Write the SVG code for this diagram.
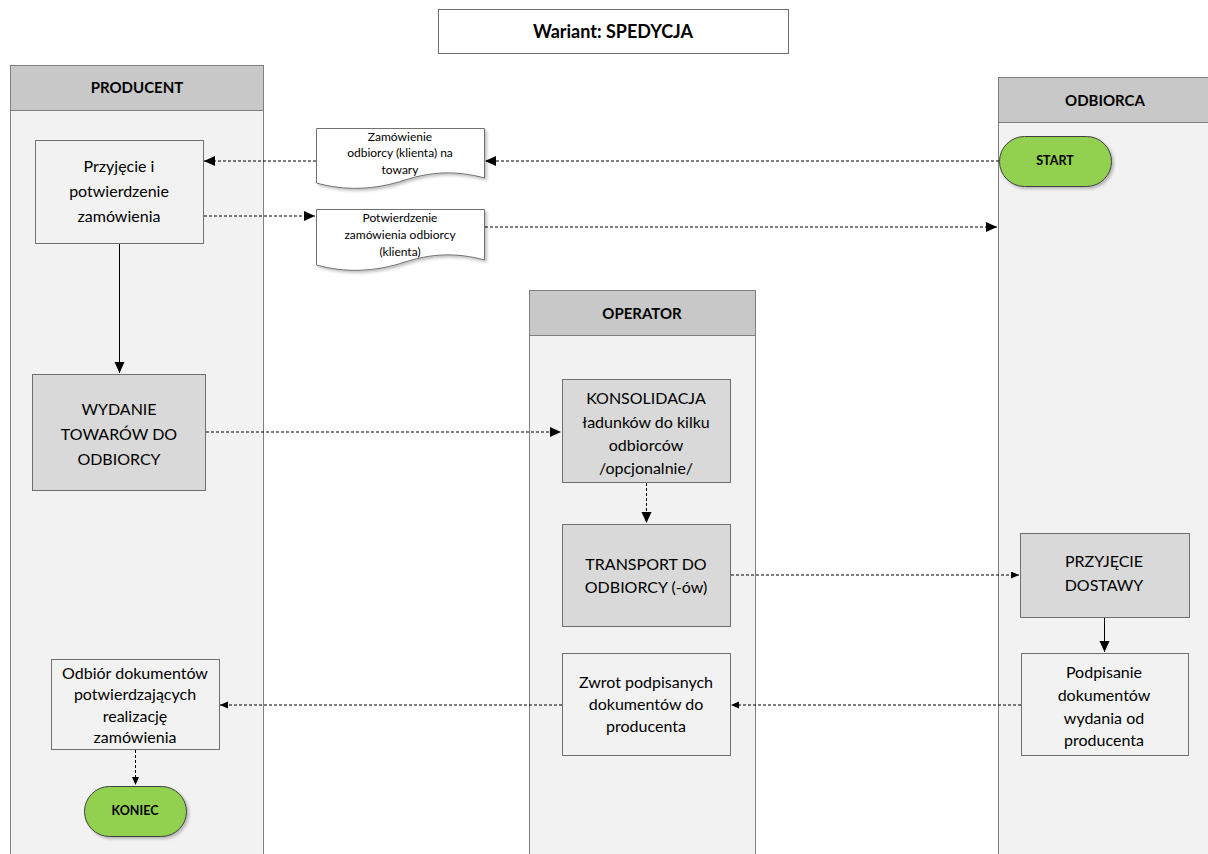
<svg xmlns="http://www.w3.org/2000/svg" width="1208" height="854" viewBox="0 0 1208 854">
<style>
text{font-family:Lato,"Open Sans","Liberation Sans",sans-serif;fill:#000;text-anchor:middle}
.t{font-size:16px}
.s{font-size:12px}
.b{font-weight:bold;font-size:15px}
.bs{font-weight:bold;font-size:12.5px}
.lane{fill:#f2f2f2;stroke:#7f7f7f;stroke-width:1}
.head{fill:#c8c8c8;stroke:#7f7f7f;stroke-width:1}
.lt{fill:#f2f2f2;stroke:#6f6f6f;stroke-width:1}
.dk{fill:#d9d9d9;stroke:#6f6f6f;stroke-width:1}
.pill{fill:#92d050;stroke:#404040;stroke-width:1}
.doc{fill:#fff;stroke:#6f6f6f;stroke-width:1}
.d{stroke:#000;stroke-width:1;stroke-dasharray:3 2;fill:none}
.sl{stroke:#000;stroke-width:1;fill:none}
</style>
<defs>
<marker id="ah" markerWidth="12" markerHeight="12" refX="11" refY="5" orient="auto" markerUnits="userSpaceOnUse"><path d="M0,0 L11,5 L0,10 Z" fill="#000"/></marker>
<marker id="as" markerWidth="10" markerHeight="10" refX="8" refY="3.5" orient="auto" markerUnits="userSpaceOnUse"><path d="M0,0 L8,3.5 L0,7 Z" fill="#000"/></marker>
<filter id="sh" x="-10%" y="-10%" width="130%" height="140%"><feDropShadow dx="2" dy="2" stdDeviation="1.5" flood-color="#000" flood-opacity="0.25"/></filter>
</defs>
<rect width="1208" height="854" fill="#fff"/>

<g id="title">
<rect x="438.5" y="9.5" width="350" height="44" fill="#fff" stroke="#6f6f6f"/>
<text x="613" y="38" class="b" style="font-size:18px">Wariant: SPEDYCJA</text>
</g>

<g id="lane-producent">
<rect class="lane" x="10.5" y="65.5" width="253" height="800"/>
<rect class="head" x="10.5" y="65.5" width="253" height="45"/>
<text x="137" y="93" class="b">PRODUCENT</text>
</g>
<g id="lane-odbiorca">
<rect class="lane" x="998.5" y="77.5" width="220" height="800"/>
<rect class="head" x="998.5" y="77.5" width="220" height="45"/>
<text x="1105" y="106" class="b">ODBIORCA</text>
</g>
<g id="lane-operator">
<rect class="lane" x="529.5" y="290.5" width="226" height="580"/>
<rect class="head" x="529.5" y="290.5" width="226" height="45"/>
<text x="642" y="319" class="b">OPERATOR</text>
</g>

<g id="connectors">
<path class="d" d="M999,161 H485" marker-end="url(#ah)"/>
<path class="d" d="M316,161 H204" marker-end="url(#ah)"/>
<path class="d" d="M204,216 H315" marker-end="url(#ah)"/>
<path class="d" d="M485,227 H997" marker-end="url(#ah)"/>
<path class="sl" d="M119.5,243 V373" marker-end="url(#ah)"/>
<path class="d" d="M206,432 H561" marker-end="url(#ah)"/>
<path class="d" d="M646.5,483 V523" marker-end="url(#ah)"/>
<path class="d" d="M731,575 H1019" marker-end="url(#as)"/>
<path class="sl" d="M1104.5,618 V652" marker-end="url(#ah)"/>
<path class="d" d="M1021,705 H731" marker-end="url(#as)"/>
<path class="d" d="M562,705 H220" marker-end="url(#as)"/>
<path class="d" d="M135.5,750 V785" marker-end="url(#as)"/>
</g>

<g id="n-przyjecie">
<rect class="lt" x="35.5" y="140.5" width="168" height="103"/>
<text class="t" x="119" y="172">Przyjęcie i</text>
<text class="t" x="119" y="197">potwierdzenie</text>
<text class="t" x="119" y="222">zamówienia</text>
</g>

<g id="n-doc-zamowienie">
<path class="doc" filter="url(#sh)" d="M316.5,128.5 H484.5 V178 C455,170 430,172 405,180 C375,190 345,191 316.5,183 Z"/>
<text class="s" x="400" y="141">Zamówienie</text>
<text class="s" x="400" y="157">odbiorcy (klienta) na</text>
<text class="s" x="400" y="174">towary</text>
</g>

<g id="n-doc-potwierdzenie">
<path class="doc" filter="url(#sh)" d="M316.5,209.5 H484.5 V260 C455,252 430,254 405,262 C375,272 345,273 316.5,265 Z"/>
<text class="s" x="400" y="222">Potwierdzenie</text>
<text class="s" x="400" y="239">zamówienia odbiorcy</text>
<text class="s" x="400" y="256">(klienta)</text>
</g>

<g id="n-start">
<rect class="pill" filter="url(#sh)" x="999.5" y="136.5" width="112" height="50" rx="25" ry="25"/>
<text class="bs" x="1055" y="165">START</text>
</g>

<g id="n-wydanie">
<rect class="dk" x="32.5" y="374.5" width="173" height="116"/>
<text class="t" x="119" y="415">WYDANIE</text>
<text class="t" x="119" y="440">TOWARÓW DO</text>
<text class="t" x="119" y="465">ODBIORCY</text>
</g>

<g id="n-konsolidacja">
<rect class="dk" x="562.5" y="379.5" width="168" height="103"/>
<text class="t" x="646" y="404">KONSOLIDACJA</text>
<text class="t" x="646" y="428">ładunków do kilku</text>
<text class="t" x="646" y="451">odbiorców</text>
<text class="t" x="646" y="474">/opcjonalnie/</text>
</g>

<g id="n-transport">
<rect class="dk" x="562.5" y="524.5" width="168" height="102"/>
<text class="t" x="646" y="570">TRANSPORT DO</text>
<text class="t" x="646" y="593">ODBIORCY (-ów)</text>
</g>

<g id="n-przyjecie-dostawy">
<rect class="dk" x="1020.5" y="533.5" width="169" height="84"/>
<text class="t" x="1104" y="567">PRZYJĘCIE</text>
<text class="t" x="1104" y="591">DOSTAWY</text>
</g>

<g id="n-podpisanie">
<rect class="lt" x="1021.5" y="653.5" width="167" height="102"/>
<text class="t" x="1104" y="678">Podpisanie</text>
<text class="t" x="1104" y="701">dokumentów</text>
<text class="t" x="1104" y="724">wydania od</text>
<text class="t" x="1104" y="746">producenta</text>
</g>

<g id="n-zwrot">
<rect class="lt" x="562.5" y="653.5" width="168" height="102"/>
<text class="t" x="646" y="688">Zwrot podpisanych</text>
<text class="t" x="646" y="710">dokumentów do</text>
<text class="t" x="646" y="732">producenta</text>
</g>

<g id="n-odbior">
<rect class="lt" x="51.5" y="659.5" width="168" height="90"/>
<text class="t" x="135" y="679">Odbiór dokumentów</text>
<text class="t" x="135" y="700">potwierdzających</text>
<text class="t" x="135" y="722">realizację</text>
<text class="t" x="135" y="743">zamówienia</text>
</g>

<g id="n-koniec">
<rect class="pill" filter="url(#sh)" x="84.5" y="786.5" width="102" height="50" rx="25" ry="25"/>
<text class="bs" x="135" y="815">KONIEC</text>
</g>
</svg>
